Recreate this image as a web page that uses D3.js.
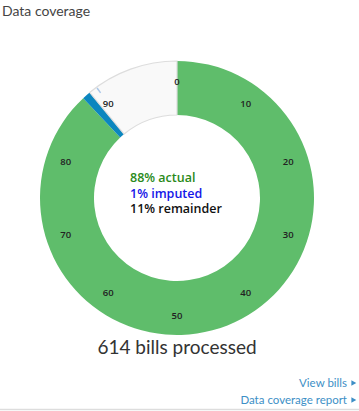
<!DOCTYPE html>
<html><head><meta charset="utf-8">
<script src="https://cdn.jsdelivr.net/npm/d3@7"></script>
<style>body{margin:0;background:#fff;}svg{display:block;}</style>
</head><body>
<svg id="c" width="359" height="411"></svg>
<script>
const segments = ["actual", "imputed", "remainder"];
const shares = [88, 1, 11];
const segColors = ["#5fbd6b", "#0b86bf", "#f9f9f9"];
const textColors = ["#2a8a1a", "#1515e8", "#111111"];
const tickValues = [0, 10, 20, 30, 40, 50, 60, 70, 80, 90];
const billsProcessed = 614;
const links = ["View bills", "Data coverage report"];

const svg = d3.select("#c");
const font = "Lato,sans-serif";
const cx = 177, cy = 198, rOuter = 137, rInner = 83, rLabel = 117;

svg.append("text").attr("x", 2).attr("y", 16).attr("font-family", font)
  .attr("font-size", 14).attr("fill", "#444").text("Data coverage");

const ang = d3.scaleLinear().domain([0, 100]).range([0, 2 * Math.PI]);
const g = svg.append("g").attr("transform", `translate(${cx},${cy})`);
const arc = d3.arc().innerRadius(rInner).outerRadius(rOuter);
let acc = 0;
const arcsData = shares.map((v, i) => { const a = {start: acc, end: acc + v, i}; acc += v; return a; });
g.selectAll("path.seg").data(arcsData).join("path")
  .attr("d", d => arc({startAngle: ang(d.start), endAngle: ang(d.end)}))
  .attr("fill", d => segColors[d.i])
  .attr("stroke", d => d.i === 2 ? "#dddddd" : "none")
  .attr("stroke-width", 1.2);

const filled = shares[0] + shares[1];
g.selectAll("line.tick").data(tickValues.filter(t => t > filled)).join("line")
  .attr("x1", d => Math.sin(ang(d)) * (rOuter - 7)).attr("y1", d => -Math.cos(ang(d)) * (rOuter - 7))
  .attr("x2", d => Math.sin(ang(d)) * (rOuter - 1)).attr("y2", d => -Math.cos(ang(d)) * (rOuter - 1))
  .attr("stroke", "#a9c6e8").attr("stroke-width", 1.5);

g.selectAll("text.lbl").data(tickValues).join("text")
  .attr("x", d => Math.sin(ang(d)) * rLabel).attr("y", d => -Math.cos(ang(d)) * rLabel)
  .attr("text-anchor", "middle").attr("dominant-baseline", "central")
  .attr("font-family", "'Open Sans',sans-serif").attr("font-size", 9.5).attr("font-weight", 600)
  .attr("fill", "#222").text(d => d);

const ct = svg.append("g");
segments.forEach((s, i) => {
  ct.append("text").attr("x", 130).attr("y", 182 + i * 15.5)
    .attr("font-family", "'Open Sans',sans-serif").attr("font-size", 12.5).attr("font-weight", 600)
    .attr("fill", textColors[i]).text(`${shares[i]}% ${s}`);
});

svg.append("text").attr("x", cx).attr("y", 354).attr("text-anchor", "middle")
  .attr("font-family", font).attr("font-size", 19).attr("fill", "#333")
  .text(`${billsProcessed} bills processed`);

links.forEach((l, i) => {
  svg.append("text").attr("x", 347).attr("y", 387 + i * 17).attr("text-anchor", "end")
    .attr("font-family", font).attr("font-size", 11.5).attr("fill", "#3d8fc6").text(l);
  svg.append("path").attr("d", d3.symbol(d3.symbolTriangle, 14)())
    .attr("transform", `translate(353,${383 + i * 17}) rotate(90)`).attr("fill", "#3d8fc6");
});
svg.append("line").attr("x1", 0).attr("x2", 359).attr("y1", 409.5).attr("y2", 409.5)
  .attr("stroke", "#dddddd").attr("stroke-width", 1.5);
</script>
</body></html>
